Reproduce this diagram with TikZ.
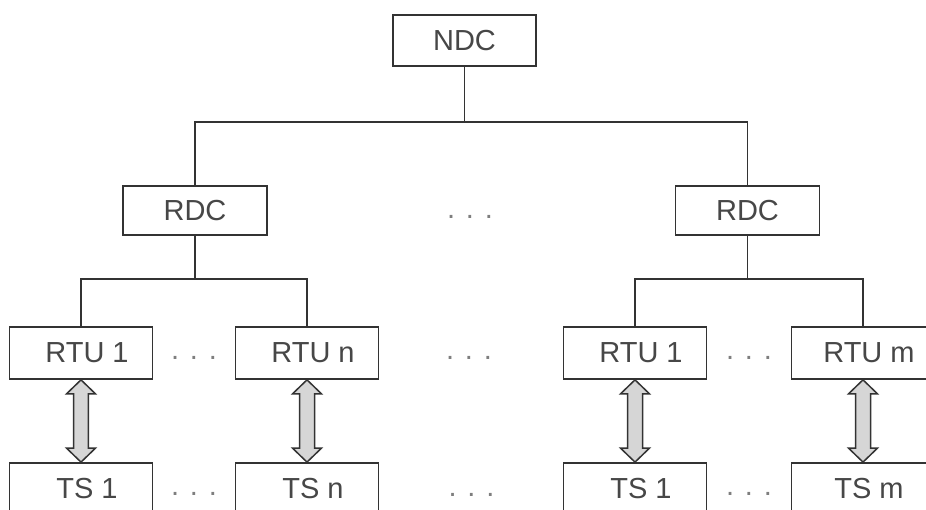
\documentclass[tikz,border=0pt]{standalone}
\usepackage{xcolor}
\usepackage{fontspec}
\setmainfont{Liberation Sans}
\usepackage{tikz}
\usetikzlibrary{calc}

\definecolor{edgegray}{HTML}{333333}
\definecolor{textgray}{HTML}{474747}
\definecolor{arrowfill}{HTML}{D6D6D6}

% block arrow with two heads between two boxes
\newcommand{\linkarrow}[2]{%
  \draw [linkline] (#1.south) -- ($(#1.south)+(0.29,-0.28)$) -- ($(#1.south)+(0.15,-0.28)$)
     -- ($(#2.north)+(0.15,0.28)$) -- ($(#2.north)+(0.29,0.28)$) -- (#2.north)
     -- ($(#2.north)+(-0.29,0.28)$) -- ($(#2.north)+(-0.15,0.28)$)
     -- ($(#1.south)+(-0.15,-0.28)$) -- ($(#1.south)+(-0.29,-0.28)$) -- cycle;%
}

\begin{document}
\begin{tikzpicture}[
    unitbox/.style={draw=edgegray, line width=0.035cm, fill=white, text=textgray,
                    minimum width=2.860000cm, minimum height=1.040000cm, inner sep=0pt},
    wire/.style={draw=edgegray, line width=0.035cm},
    linkline/.style={draw=edgegray, line width=0.03cm, fill=arrowfill, line join=miter},
    gap/.style={text=textgray!70, anchor=base, inner sep=0pt}
  ]
                    \useasboundingbox (0,0) rectangle (18.520000,10.200000);
                    {\fontsize{16.5}{20}\selectfont

                    % Drawing box NDC
                    \node [unitbox, minimum height=1.020000cm] (ndc) at (9.290000,9.390000) {NDC};%

                    % Drawing boxes RDC
                    \node [unitbox, minimum width=2.880000cm, minimum height=0.980000cm] (rdcL) at (3.900000,5.990000) {RDC};%
                    \node [unitbox, minimum width=2.880000cm, minimum height=0.980000cm] (rdcR) at (14.950000,5.990000) {RDC};%

                    % Drawing boxes RTU
                    \node [unitbox] (rtuL1) at (1.620000,3.140000) {\hspace*{0.24cm}RTU 1};%
                    \node [unitbox] (rtuLn) at (6.140000,3.140000) {\hspace*{0.24cm}RTU n};%
                    \node [unitbox] (rtuR1) at (12.700000,3.140000) {\hspace*{0.24cm}RTU 1};%
                    \node [unitbox] (rtuRm) at (17.260000,3.140000) {\hspace*{0.24cm}RTU m};%

                    % Drawing boxes TS
                    \node [unitbox] (tsL1) at (1.620000,0.420000) {\hspace*{0.24cm}TS 1};%
                    \node [unitbox] (tsLn) at (6.140000,0.420000) {\hspace*{0.24cm}TS n};%
                    \node [unitbox] (tsR1) at (12.700000,0.420000) {\hspace*{0.24cm}TS 1};%
                    \node [unitbox] (tsRm) at (17.260000,0.420000) {\hspace*{0.24cm}TS m};%

                    % Drawing buses
                    \coordinate (busTop) at (9.290000,7.760000);%
                    \coordinate (busL) at (3.900000,4.620000);%
                    \coordinate (busR) at (14.950000,4.620000);%
                    \draw [wire] (ndc.south) -- (busTop);%
                    \draw [wire] (rdcL.north) |- (busTop) -| (rdcR.north);%
                    \draw [wire] (rdcL.south) -- (busL);%
                    \draw [wire] (rtuL1.north) |- (busL) -| (rtuLn.north);%
                    \draw [wire] (rdcR.south) -- (busR);%
                    \draw [wire] (rtuR1.north) |- (busR) -| (rtuRm.north);%

                    % Drawing arrows RTU - TS
                    \linkarrow{rtuL1}{tsL1}
                    \linkarrow{rtuLn}{tsLn}
                    \linkarrow{rtuR1}{tsR1}
                    \linkarrow{rtuRm}{tsRm}

                    % Marking gaps by dots
                    \node [gap] (gapTop) at (9.400000,5.830000) {. . .};%
                    \node [gap] (gapRtuL) at (3.880000,3.010000) {. . .};%
                    \node [gap] (gapRtuM) at (9.380000,3.010000) {. . .};%
                    \node [gap] (gapRtuR) at (14.980000,3.010000) {. . .};%
                    \node [gap] (gapTsL) at (3.880000,0.290000) {. . .};%
                    \node [gap] (gapTsM) at (9.430000,0.270000) {. . .};%
                    \node [gap] (gapTsR) at (14.980000,0.290000) {. . .};%
                    }
\end{tikzpicture}
\end{document}
